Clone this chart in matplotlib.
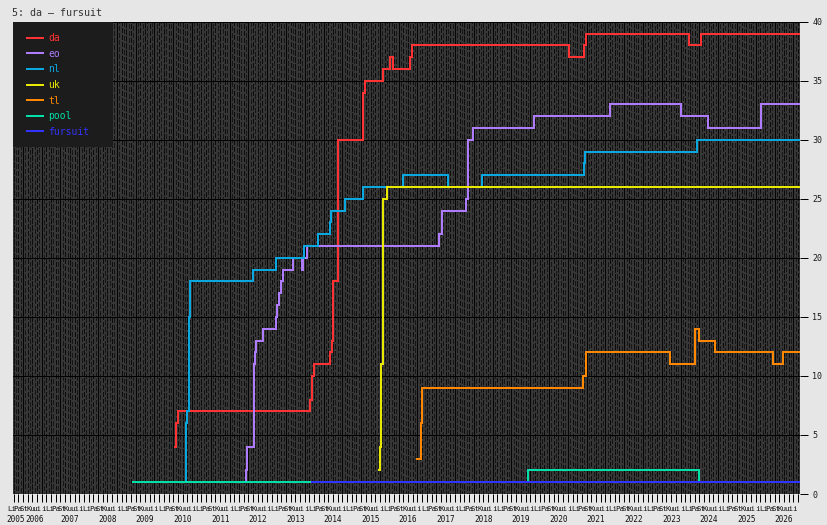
import numpy as np
import matplotlib
matplotlib.use('Agg')
import matplotlib.pyplot as plt
from matplotlib.patches import Rectangle

plt.rcParams['font.family'] = ['DejaVu Sans Mono', 'DejaVu Sans']
plt.rcParams['lines.scale_dashes'] = False

# ---------------- data (decimal years, counts) ----------------
series_names = ['da', 'eo', 'nl', 'uk', 'tl', 'pool', 'fursuit']
series_colors = ['#ff3333', '#b07cff', '#0aa8e0', '#e8e800', '#ff8800', '#00e0a8', '#3333ff']

da_t = [2010.297, 2010.337, 2010.364, 2013.890, 2013.930, 2013.956, 2013.996,
        2014.422, 2014.462, 2014.489, 2014.515, 2014.648, 2015.308, 2015.340,
        2015.840, 2016.019, 2016.106, 2016.551, 2016.612, 2020.790, 2021.181,
        2021.226, 2023.983, 2024.286]
da_v = [4, 6, 7, 8, 9, 10, 11, 12, 13, 15, 18, 30, 34, 35, 36, 37, 36, 37, 38,
        37, 38, 39, 38, 39]

eo_t = [2012.179, 2012.195, 2012.213, 2012.400, 2012.434, 2012.466, 2012.639,
        2012.972, 2013.012, 2013.065, 2013.118, 2013.171, 2013.445, 2013.669,
        2013.712, 2013.802, 2017.331, 2017.394, 2018.041, 2018.086, 2018.235,
        2019.858, 2021.873, 2023.754, 2024.473, 2025.891]
eo_v = [1, 2, 4, 11, 12, 13, 14, 15, 16, 17, 18, 19, 20, 19, 20, 21, 22, 24,
        25, 30, 31, 32, 33, 32, 31, 33]

nl_t = [2010.577, 2010.590, 2010.617, 2010.657, 2010.691, 2012.365, 2012.985,
        2013.738, 2014.103, 2014.422, 2014.449, 2014.808, 2015.308, 2016.373,
        2017.570, 2018.459, 2021.181, 2021.208, 2024.180]
nl_v = [1, 6, 7, 15, 18, 19, 20, 21, 22, 23, 24, 25, 26, 27, 26, 27, 28, 29, 30]

uk_t = [2015.726, 2015.753, 2015.779, 2015.819, 2015.926]
uk_v = [2, 4, 11, 25, 26]

tl_t = [2016.745, 2016.836, 2016.862, 2021.162, 2021.226, 2023.469, 2024.135,
        2024.241, 2024.667, 2026.202, 2026.468]
tl_v = [3, 6, 9, 10, 12, 11, 14, 13, 12, 11, 12]

pool_t = [2009.188, 2019.699, 2024.241]
pool_v = [1, 2, 1]

fursuit_t = [2013.935]
fursuit_v = [1]

series_t = [da_t, eo_t, nl_t, uk_t, tl_t, pool_t, fursuit_t]
series_v = [da_v, eo_v, nl_v, uk_v, tl_v, pool_v, fursuit_v]

x_start, x_end = 2005.98, 2026.935
y_ticks = [0, 5, 10, 15, 20, 25, 30, 35, 40]
years = list(range(2006, 2027))
month_labels = ['Pa', 'St', 'Ku', 'ui', 'i', 'Li']
title = '5: da – fursuit'

# ---------------- figure ----------------
W, H = 827, 525
fig = plt.figure(figsize=(W / 100, H / 100), dpi=100, facecolor='#e6e6e6')
left, right, top, bottom = 12.75, 800.25, 21.7, 494.0
ax = fig.add_axes([left / W, 1 - bottom / H, (right - left) / W, (bottom - top) / H])
ax.set_facecolor('#363636')
ax.set_xlim(x_start, x_end)
ax.set_ylim(0, 40)

px = 0.72  # one pixel in points

# background texture: dashed minor grid, solid major grid
minor = np.arange(2005.875, 2027.01, 0.125)
for i, m in enumerate(minor):
    if x_start < m < x_end:
        ax.axvline(m, color='#0c0c0c', lw=px, linestyle=((i % 4) * 1.1, (2.9, 1.9)),
                   zorder=1, antialiased=False)
        ax.axvline(m + 0.0625, color='#161616', lw=px, linestyle=((i % 3) * 1.4 + 0.7, (2.2, 2.6)),
                   zorder=1, antialiased=False)
major = np.arange(2005.75, 2027.01, 0.5)
for m in major:
    if x_start < m < x_end:
        ax.axvline(m, color='#050505', lw=px, zorder=1.2, antialiased=False)
for y in y_ticks[1:-1]:
    ax.axhline(y, color='black', lw=px, zorder=1.5, antialiased=False)

# series
for name, col, t, v in zip(series_names, series_colors, series_t, series_v):
    tt = list(t) + [x_end]
    vv = list(v) + [v[-1]]
    ax.plot(tt, vv, drawstyle='steps-post', color=col, lw=2 * px, label=name,
            zorder=3, antialiased=False, solid_joinstyle='miter')

# spines
for s in ['left', 'right', 'bottom']:
    ax.spines[s].set_visible(False)
ax.spines['top'].set_color('black')
ax.spines['top'].set_linewidth(px)

# y axis on right
ax.yaxis.tick_right()
ax.set_yticks(y_ticks)
ax.set_yticklabels([str(v) for v in y_ticks])
ax.tick_params(axis='y', length=8 * px, width=px, color='black', labelsize=6,
               pad=3, labelcolor='#1a1a1a')

# x ticks (every 1.5 months) without labels
xt = np.arange(2006.0, 2026.93, 0.125)
ax.set_xticks(xt)
ax.set_xticklabels([''] * len(xt))
ax.tick_params(axis='x', length=8 * px, width=px, color='black', direction='out')

xtr = ax.get_xaxis_transform()
month_y = -15 / (bottom - top)
year_y = -25 / (bottom - top)
# month labels
ax.text(2005.958, month_y, 'Li', transform=xtr, ha='center', va='center',
        fontsize=5.3, color='#111111', clip_on=False)
for yr in years:
    for k, lab in enumerate(month_labels):
        pos = yr + (k + 0.75) / 6
        if pos < x_end:
            ax.text(pos, month_y, lab, transform=xtr, ha='center', va='center',
                    fontsize=5.3, color='#111111', clip_on=False)
# year labels
ax.text(2006.06, year_y, '2005', transform=xtr, ha='center', va='center',
        fontsize=5.6, color='#111111', clip_on=False)
for yr in years:
    pos = yr + 0.5 + (0.05 if yr == 2006 else 0)
    ax.text(pos, year_y, str(yr), transform=xtr, ha='center', va='center',
            fontsize=5.6, color='#111111', clip_on=False)

# legend box + legend
box_w = 100.6 / (right - left)
box_h = 125.0 / (bottom - top)
ax.add_patch(Rectangle((0, 1 - box_h), box_w, box_h, transform=ax.transAxes,
                       facecolor='#1c1c1c', edgecolor='none', zorder=6))
leg = ax.legend(loc='upper left', bbox_to_anchor=((26.7 - left) / (right - left),
                                                  (bottom - 33.0) / (bottom - top)),
                frameon=False, borderpad=0, borderaxespad=0, fontsize=7,
                handlelength=1.71, handletextpad=0.5, labelspacing=0.58,
                labelcolor='linecolor')
leg.set_zorder(7)

fig.text(11.5 / W, 1 - 12.5 / H, title, fontsize=7.2, color='#333333',
         ha='left', va='center')

fig.savefig('out.png', dpi=100, facecolor=fig.get_facecolor())
